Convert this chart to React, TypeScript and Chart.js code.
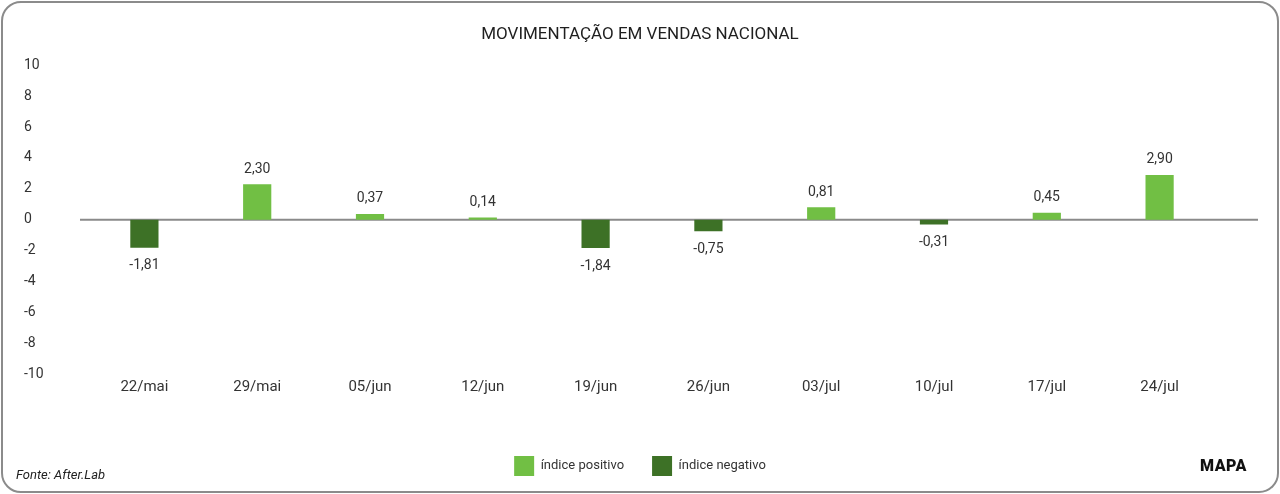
import React, { useEffect, useRef } from "react";
import { Chart, registerables } from "chart.js";

Chart.register(...registerables);

const categories = ["22/mai", "29/mai", "05/jun", "12/jun", "19/jun", "26/jun", "03/jul", "10/jul", "17/jul", "24/jul"];
const positiveValues = [null, 2.3, 0.37, 0.14, null, null, 0.81, null, 0.45, 2.9];
const negativeValues = [-1.81, null, null, null, -1.84, -0.75, null, -0.31, null, null];
const yTicks = [10, 8, 6, 4, 2, 0, -2, -4, -6, -8, -10];

const FONT = "Roboto, 'DejaVu Sans', sans-serif";

const zeroLinePlugin = {
  id: "zeroLine",
  beforeDatasetsDraw(chart: any) {
    const { ctx, chartArea, scales } = chart;
    const y = scales.y.getPixelForValue(0);
    ctx.save();
    ctx.strokeStyle = "#8a8a8a";
    ctx.lineWidth = 2;
    ctx.beginPath();
    ctx.moveTo(chartArea.left - 8, y);
    ctx.lineTo(chart.width - 22, y);
    ctx.stroke();
    ctx.restore();
  },
};

const valueLabelPlugin = {
  id: "valueLabels",
  afterDatasetsDraw(chart: any) {
    const { ctx } = chart;
    ctx.save();
    ctx.font = `14px ${FONT}`;
    ctx.fillStyle = "#333333";
    ctx.textAlign = "center";
    ctx.textBaseline = "middle";
    chart.data.datasets.forEach((ds: any, di: number) => {
      const meta = chart.getDatasetMeta(di);
      meta.data.forEach((el: any, i: number) => {
        const v = ds.data[i];
        if (v === null || v === undefined) return;
        const y = v >= 0 ? el.y - 15 : el.y + 18;
        ctx.fillText(v.toFixed(2).replace(".", ","), el.x, y);
      });
    });
    ctx.restore();
  },
};

export default function App() {
  const ref = useRef<HTMLCanvasElement | null>(null);

  useEffect(() => {
    if (!ref.current) return;
    const chart = new Chart(ref.current, {
      type: "bar",
      data: {
        labels: categories,
        datasets: [
          {
            label: "índice positivo",
            data: positiveValues as any,
            backgroundColor: "#71bf44",
            borderWidth: 0,
            categoryPercentage: 0.5,
            barPercentage: 0.5,
          },
          {
            label: "índice negativo",
            data: negativeValues as any,
            backgroundColor: "#3d7126",
            borderWidth: 0,
            categoryPercentage: 0.5,
            barPercentage: 0.5,
          },
        ],
      },
      options: {
        animation: false,
        responsive: false,
        devicePixelRatio: 1,
        layout: { padding: { left: 24, right: 24, top: 0, bottom: 8 } },
        plugins: {
          title: {
            display: true,
            text: "MOVIMENTAÇÃO EM VENDAS NACIONAL",
            font: { family: FONT, size: 17, weight: "normal" },
            color: "#1f1f1f",
            padding: { top: 25, bottom: 20 },
          },
          legend: {
            position: "bottom",
            labels: {
              boxWidth: 20,
              boxHeight: 20,
              padding: 28,
              color: "#333333",
              font: { family: FONT, size: 13 },
            },
          },
          tooltip: { enabled: false },
        },
        scales: {
          x: {
            stacked: true,
            grid: { display: false, drawTicks: false },
            border: { display: false },
            ticks: { color: "#333333", font: { family: FONT, size: 15 }, padding: 4 },
            afterFit: (s: any) => {
              s.height = 54;
            },
          },
          y: {
            stacked: true,
            min: -10,
            max: 10,
            afterBuildTicks: (s: any) => {
              s.ticks = yTicks.map((v) => ({ value: v }));
            },
            grid: { display: false, drawTicks: false },
            border: { display: false },
            ticks: {
              color: "#333333",
              font: { family: FONT, size: 14 },
              crossAlign: "far",
              padding: 43,
              callback: (v: any) => String(v),
            },
            afterFit: (s: any) => {
              s.width = 64;
            },
          },
          yRight: {
            position: "right",
            display: true,
            grid: { display: false, drawTicks: false },
            border: { display: false },
            ticks: { display: false },
            afterFit: (s: any) => {
              s.width = 40;
            },
          },
        },
      } as any,
      plugins: [zeroLinePlugin, valueLabelPlugin],
    });
    return () => chart.destroy();
  }, []);

  return (
    <div style={{ position: "fixed", left: 0, top: 0, width: 1280, height: 494, background: "#ffffff", fontFamily: FONT }}>
      <canvas ref={ref} width={1280} height={494} style={{ display: "block", width: 1280, height: 494 }} />
      <div
        style={{
          position: "absolute",
          left: 1,
          top: 1,
          width: 1278,
          height: 492,
          boxSizing: "border-box",
          border: "2px solid #8b8b8b",
          borderRadius: 20,
          pointerEvents: "none",
        }}
      />
      <div
        style={{
          position: "absolute",
          left: 16,
          top: 466,
          fontSize: 13,
          fontStyle: "italic",
          color: "#222222",
          lineHeight: "18px",
        }}
      >
        Fonte: After.Lab
      </div>
      <div
        style={{
          position: "absolute",
          left: 1200,
          top: 457,
          fontSize: 16,
          fontWeight: 900,
          color: "#111111",
          lineHeight: "18px",
          letterSpacing: 0.5,
        }}
      >
        MAPA
      </div>
    </div>
  );
}
